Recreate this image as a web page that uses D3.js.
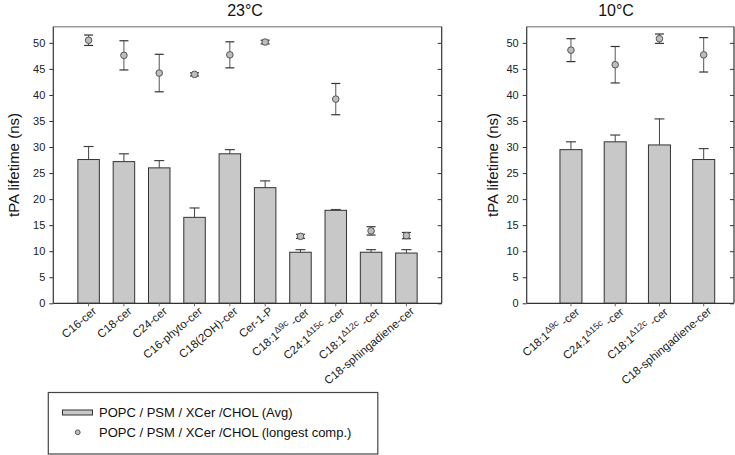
<!DOCTYPE html>
<html><head><meta charset="utf-8">
<script src="https://cdn.jsdelivr.net/npm/d3@7"></script>
<style>body{margin:0;background:#fff}svg{font-family:"Liberation Sans",Arial,sans-serif}</style>
</head><body>
<script>
// ---- data ----
const catsLeft = [
  ["C16-cer"],["C18-cer"],["C24-cer"],["C16-phyto-cer"],["C18(2OH)-cer"],["Cer-1-P"],
  ["C18:1","\u0394","9c"," -cer"],["C24:1","\u0394","15c"," -cer"],["C18:1","\u0394","12c"," -cer"],["C18-sphingadiene-cer"]
];
const avgLeft = [27.6, 27.2, 26.0, 16.5, 28.7, 22.2, 9.8, 17.85, 9.8, 9.65];
const avgErrLeft = [2.5, 1.5, 1.4, 1.8, 0.8, 1.3, 0.5, 0.15, 0.5, 0.65];
const longLeft = [50.5, 47.6, 44.2, 43.95, 47.7, 50.15, 12.85, 39.2, 13.9, 13.0];
const longErrLeft = [1.0, 2.8, 3.6, 0.3, 2.5, 0.35, 0.4, 3.0, 0.8, 0.6];

const catsRight = [
  ["C18:1","\u0394","9c"," -cer"],["C24:1","\u0394","15c"," -cer"],["C18:1","\u0394","12c"," -cer"],["C18-sphingadiene-cer"]
];
const avgRight = [29.5, 31.0, 30.4, 27.6];
const avgErrRight = [1.5, 1.3, 5.0, 2.1];
const longRight = [48.6, 45.8, 50.8, 47.7];
const longErrRight = [2.2, 3.5, 0.9, 3.3];

const yTicks = [0,5,10,15,20,25,30,35,40,45,50];
const titles = ["23\u00B0C","10\u00B0C"];
const yTitle = "tPA lifetime (ns)";
const legendLabels = ["POPC / PSM / XCer /CHOL (Avg)","POPC / PSM / XCer /CHOL (longest comp.)"];

// ---- drawing ----
const W=735,H=455;
const svg=d3.select("body").append("svg").attr("width",W).attr("height",H);
const y=d3.scaleLinear().domain([0,53.1]).range([303.3,26.7]);
const barFill="#c8c8c8", dark="#333";

function panel(cfg){
  const {x0,x1,xDomain,cats,avg,avgErr,lng,lngErr,title,titleX,yTitleX,barW}=cfg;
  const x=d3.scaleLinear().domain(xDomain).range([x0,x1]);
  const g=svg.append("g");
  const idx=d3.range(cats.length);
  g.selectAll("rect.bar").data(idx).join("rect")
    .attr("x",i=>x(i+1)-barW/2).attr("width",barW)
    .attr("y",i=>y(avg[i])).attr("height",i=>y(0)-y(avg[i]))
    .attr("fill",barFill).attr("stroke",dark).attr("stroke-width",1);
  g.selectAll("line.be").data(idx).join("line")
    .attr("x1",i=>x(i+1)).attr("x2",i=>x(i+1))
    .attr("y1",i=>y(avg[i])).attr("y2",i=>y(avg[i]+avgErr[i]))
    .attr("stroke","#444").attr("stroke-width",1);
  g.selectAll("line.bc").data(idx).join("line")
    .attr("x1",i=>x(i+1)-5).attr("x2",i=>x(i+1)+5)
    .attr("y1",i=>y(avg[i]+avgErr[i])).attr("y2",i=>y(avg[i]+avgErr[i]))
    .attr("stroke","#444").attr("stroke-width",1.2);
  g.selectAll("line.pe").data(idx).join("line")
    .attr("x1",i=>x(i+1)).attr("x2",i=>x(i+1))
    .attr("y1",i=>y(lng[i]-lngErr[i])).attr("y2",i=>y(lng[i]+lngErr[i]))
    .attr("stroke","#555").attr("stroke-width",1);
  [1,-1].forEach(s=>{
    g.selectAll(null).data(idx).join("line")
      .attr("x1",i=>x(i+1)-4.5).attr("x2",i=>x(i+1)+4.5)
      .attr("y1",i=>y(lng[i]+s*lngErr[i])).attr("y2",i=>y(lng[i]+s*lngErr[i]))
      .attr("stroke","#333").attr("stroke-width",1.2);
  });
  g.selectAll("circle.pt").data(idx).join("circle")
    .attr("cx",i=>x(i+1)).attr("cy",i=>y(lng[i])).attr("r",3.3)
    .attr("fill","#bdbdbd").attr("stroke","#555").attr("stroke-width",1);
  g.append("line").attr("x1",x0).attr("x2",x1).attr("y1",y.range()[1]).attr("y2",y.range()[1]).attr("stroke","#999").attr("stroke-width",1.5);
  g.append("line").attr("x1",x0).attr("x2",x1).attr("y1",y(0)).attr("y2",y(0)).attr("stroke",dark).attr("stroke-width",1.2);
  g.append("line").attr("x1",x0).attr("x2",x0).attr("y1",y.range()[1]).attr("y2",y(0)).attr("stroke",dark).attr("stroke-width",1.2);
  g.append("line").attr("x1",x1).attr("x2",x1).attr("y1",y.range()[1]).attr("y2",y(0)).attr("stroke",dark).attr("stroke-width",1.2);
  const ya=g.append("g").attr("transform",`translate(${x0},0)`)
    .call(d3.axisLeft(y).tickValues(yTicks).tickSize(4).tickPadding(4));
  ya.select(".domain").remove();
  ya.selectAll("line").attr("stroke",dark);
  ya.selectAll("text").attr("font-size",11).attr("fill","#222").attr("font-family","Liberation Sans, Arial, sans-serif");
  const yr=g.append("g").attr("transform",`translate(${x1},0)`)
    .call(d3.axisLeft(y).tickValues(yTicks).tickSize(4).tickFormat(""));
  yr.select(".domain").remove();
  yr.selectAll("line").attr("stroke",dark);
  g.selectAll("line.xt").data(idx).join("line")
    .attr("x1",i=>x(i+1)).attr("x2",i=>x(i+1)).attr("y1",y(0)).attr("y2",y(0)+3)
    .attr("stroke","#666");
  idx.forEach(i=>{
    const c=cats[i];
    const t=g.append("text").attr("text-anchor","end")
      .attr("transform",`translate(${x(i+1)+6},${y(0)+6}) rotate(-40)`)
      .attr("font-size",11.5).attr("fill","#222").attr("dy","0.35em");
    if(c.length===1){t.text(c[0]);}
    else{
      t.append("tspan").text(c[0]);
      t.append("tspan").attr("dy","-0.45em").attr("font-size",9).text(c[1]+c[2]);
      t.append("tspan").attr("dy","0.45em").text(c[3]);
    }
  });
  svg.append("text").attr("x",titleX).attr("y",16).attr("text-anchor","middle")
    .attr("font-size",16).attr("fill","#111").text(title);
  svg.append("text").attr("transform",`translate(${yTitleX},${(y(0)+y.range()[1])/2}) rotate(-90)`)
    .attr("text-anchor","middle").attr("dy","0.35em").attr("font-size",15).attr("fill","#111").text(yTitle);
}

panel({x0:53.3,x1:441.7,xDomain:[0,11],cats:catsLeft,avg:avgLeft,avgErr:avgErrLeft,lng:longLeft,lngErr:longErrLeft,
  title:titles[0],titleX:245,yTitleX:14,barW:21.5});
panel({x0:526.7,x1:734,xDomain:[0,(734-526.7)/44.25],cats:catsRight,avg:avgRight,avgErr:avgErrRight,lng:longRight,lngErr:longErrRight,
  title:titles[1],titleX:616,yTitleX:493,barW:22});

const lg=svg.append("g");
lg.append("rect").attr("x",48.3).attr("y",392.5).attr("width",329.5).attr("height",61.5)
  .attr("fill","#fff").attr("stroke","#444").attr("stroke-width",1.2);
lg.append("rect").attr("x",62.5).attr("y",410).attr("width",30).attr("height",5)
  .attr("fill",barFill).attr("stroke",dark).attr("stroke-width",1);
lg.append("circle").attr("cx",77.7).attr("cy",432.3).attr("r",2.4)
  .attr("fill","#bdbdbd").attr("stroke","#555").attr("stroke-width",1);
legendLabels.forEach((l,i)=>{
  lg.append("text").attr("x",99).attr("y",417+i*20).attr("font-size",13).attr("fill","#111").text(l);
});
</script>
</body></html>
